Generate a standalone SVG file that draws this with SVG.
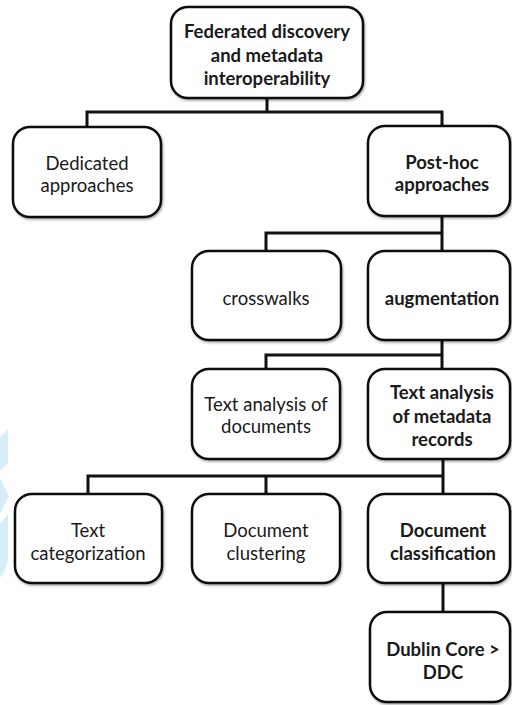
<svg xmlns="http://www.w3.org/2000/svg" width="512" height="705" viewBox="0 0 512 705">
<style>
.box{fill:#fff;stroke:#111;stroke-width:2.5;filter:url(#sh)}
.t{font-family:Lato,"Open Sans","DejaVu Sans",sans-serif;font-size:18.5px;fill:#1a1a1a;text-anchor:middle}
.b{font-weight:bold}
.c{fill:none;stroke:#111;stroke-width:3;stroke-linejoin:miter}
.wm{fill:#d6eef9}
</style>
<defs>
<filter id="sh" x="-10%" y="-10%" width="120%" height="125%">
<feDropShadow dx="1" dy="1.5" stdDeviation="1" flood-color="#000" flood-opacity="0.35"/>
</filter>
</defs>
<rect width="512" height="705" fill="#fff"/>
<g id="watermark">
<polygon class="wm" points="0,437 8,429 8,463 0,471"/>
<polygon class="wm" points="0,478 9,496 0,514"/>
<polygon class="wm" points="0,524 8,514 8,560 4,572 0,578"/>
</g>
<g id="connectors">
<path class="c" d="M267,98 V112 M87,127 V112 H442 V127"/>
<path class="c" d="M442,216 V251 M266,251 V233 H442"/>
<path class="c" d="M442,340 V369 M266,369 V355 H442"/>
<path class="c" d="M443,459 V494 M88,494 V476 H443 M266,476 V494"/>
<path class="c" d="M443,583 V612"/>
</g>
<g id="n-federated">
<rect class="box" x="171" y="7" width="192" height="91" rx="17"/>
<text class="t b" x="267" y="38">Federated discovery</text>
<text class="t b" x="267" y="61.5">and metadata</text>
<text class="t b" x="267" y="85">interoperability</text>
</g>
<g id="n-dedicated">
<rect class="box" x="13" y="127" width="148" height="90" rx="17"/>
<text class="t" x="87" y="170">Dedicated</text>
<text class="t" x="87" y="192">approaches</text>
</g>
<g id="n-posthoc">
<rect class="box" x="368" y="126" width="142" height="90" rx="17"/>
<text class="t b" x="442" y="169">Post-hoc</text>
<text class="t b" x="442" y="191">approaches</text>
</g>
<g id="n-crosswalks">
<rect class="box" x="192" y="251" width="149" height="89" rx="17"/>
<text class="t" x="266" y="305">crosswalks</text>
</g>
<g id="n-augmentation">
<rect class="box" x="368" y="251" width="142" height="89" rx="17"/>
<text class="t b" x="442" y="305">augmentation</text>
</g>
<g id="n-textdocs">
<rect class="box" x="192" y="369" width="148" height="90" rx="17"/>
<text class="t" x="266" y="411">Text analysis of</text>
<text class="t" x="266" y="433">documents</text>
</g>
<g id="n-textmeta">
<rect class="box" x="368" y="369" width="142" height="90" rx="17"/>
<text class="t b" x="442" y="399">Text analysis</text>
<text class="t b" x="442" y="423">of metadata</text>
<text class="t b" x="442" y="446">records</text>
</g>
<g id="n-textcat">
<rect class="box" x="15" y="494" width="147" height="89" rx="17"/>
<text class="t" x="88" y="537">Text</text>
<text class="t" x="88" y="560">categorization</text>
</g>
<g id="n-docclust">
<rect class="box" x="192" y="494" width="148" height="89" rx="17"/>
<text class="t" x="266" y="537">Document</text>
<text class="t" x="266" y="560">clustering</text>
</g>
<g id="n-docclass">
<rect class="box" x="368" y="494" width="142" height="89" rx="17"/>
<text class="t b" x="443" y="537">Document</text>
<text class="t b" x="443" y="560">classification</text>
</g>
<g id="n-dublin">
<rect class="box" x="370" y="612" width="140" height="90" rx="17"/>
<text class="t b" x="443" y="656">Dublin Core &gt;</text>
<text class="t b" x="443" y="679">DDC</text>
</g>
</svg>
